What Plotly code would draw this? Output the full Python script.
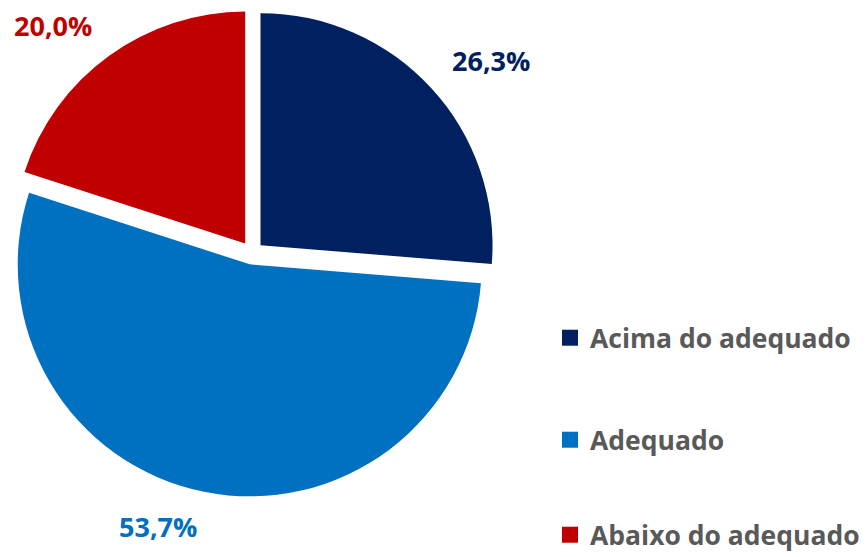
import math
import plotly.graph_objects as go

categories = ["Acima do adequado", "Adequado", "Abaixo do adequado"]
values = [26.3, 53.7, 20.0]
value_labels = ["26,3%", "53,7%", "20,0%"]
colors = ["#002060", "#0070C0", "#C00000"]

W, H = 867, 557
pull = 0.05
CX, CY, R = 252.0, 253.0, 232.0  # pie centre and radius in px
half = R * (1 + pull)
dom_x = [(CX - half) / W, (CX + half) / W]
dom_y = [1 - (CY + half) / H, 1 - (CY - half) / H]

fig = go.Figure()
fig.add_trace(go.Pie(
    labels=categories, values=values, sort=False, direction="clockwise",
    rotation=0, pull=[pull] * len(values), textinfo="none", hoverinfo="label+percent",
    marker=dict(colors=colors, line=dict(width=0)), showlegend=False,
    domain=dict(x=dom_x, y=dom_y),
))

legend_rows_px = [338, 440, 535]
legend_names = ["legend", "legend2", "legend3"]
for c, col, lg in zip(categories, colors, legend_names):
    fig.add_trace(go.Scatter(
        x=[None], y=[None], mode="markers", name=c, legend=lg,
        marker=dict(symbol="square", size=18, color=col),
    ))

dist = 269
total = sum(values)
cum = 0
annotations = []
for v, lab, col in zip(values, value_labels, colors):
    mid = (cum + v / 2) / total * 2 * math.pi
    cum += v
    s, c = math.sin(mid), math.cos(mid)
    px = CX + dist * s
    py = CY - dist * c + (-10 if c > 0 else 10)
    annotations.append(dict(
        x=px / W, y=1 - py / H, xref="paper", yref="paper", text=lab,
        showarrow=False, xanchor="left" if s > 0 else "right", yanchor="middle",
        font=dict(family="Open Sans", size=27, color=col, weight="bold"),
    ))

legend_font = dict(family="Open Sans", size=26.5, color="#595959", weight="bold")
layout_legends = {}
for lg, ry in zip(legend_names, legend_rows_px):
    layout_legends[lg] = dict(x=550 / W, y=1 - ry / H, xanchor="left", yanchor="middle",
                              font=legend_font, bgcolor="rgba(0,0,0,0)")

fig.update_layout(
    width=W, height=H, margin=dict(l=0, r=0, t=0, b=0, autoexpand=False),
    paper_bgcolor="white", plot_bgcolor="white",
    xaxis=dict(visible=False), yaxis=dict(visible=False),
    annotations=annotations, **layout_legends,
)

fig.write_html(
    "out.html", config={"displayModeBar": False},
    post_script=("document.documentElement.style.overflow='hidden';"
                 "document.body.style.overflow='hidden';"
                 "document.documentElement.style.margin='0';"
                 "document.body.style.margin='0';"
                 "document.body.style.padding='0';"),
)
